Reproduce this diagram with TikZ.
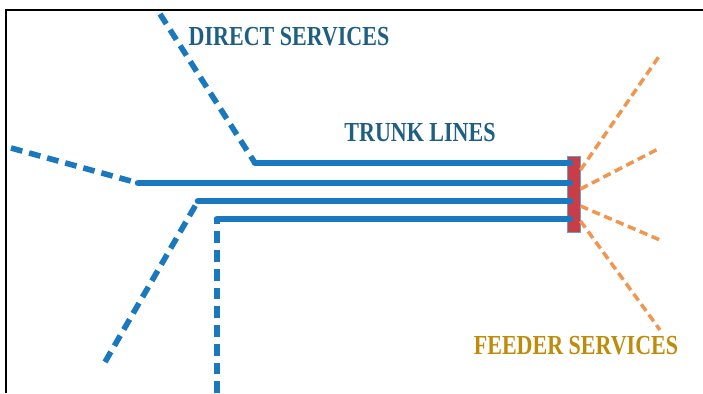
\documentclass[tikz,border=0pt]{standalone}
\usepackage{fontspec}
\newfontfamily\labelfont[FakeStretch=0.8]{Liberation Serif}
\usetikzlibrary{positioning}
\definecolor{trunkblue}{RGB}{26,121,190}
\definecolor{textblue}{RGB}{30,95,130}
\definecolor{feedergold}{RGB}{190,140,10}
\definecolor{feederorange}{RGB}{240,150,80}
\definecolor{hubred}{RGB}{200,62,72}
\tikzset{>=latex}
\tikzset{
  trunk/.style={line width=5.6pt,color=trunkblue,line cap=round},
  direct/.style={line width=4.8pt,color=trunkblue,dash pattern=on 10pt off 6pt},
  feeder/.style={line width=3pt,color=feederorange,dash pattern=on 7pt off 4pt},
  hubbox/.style={rectangle,draw=trunkblue!70,line width=0.8pt,fill=hubred,inner sep=0pt,minimum width=0.39cm,minimum height=2.28cm},
  lbl/.style={font=\labelfont\bfseries\fontsize{23.5}{25}\selectfont,inner sep=0pt}
}
\begin{document}
\begin{tikzpicture}[x=0.03cm,y=-0.03cm]
\useasboundingbox (0,0) rectangle (703,393);

\draw[line width=1.6pt] (6,393) |- (703,10);

\node [hubbox] (hub) at (573.5,194) {};

\node [lbl,color=textblue] (direct) at (289,37) {DIRECT SERVICES};
\node [lbl,color=textblue] (trunklbl) at (420,133) {TRUNK LINES};
\node [lbl,color=feedergold] (feederlbl) at (576,346) {FEEDER SERVICES};

\coordinate (d1) at (160,14);
\coordinate (b1) at (255,163);
\coordinate (e1) at (570,163);
\coordinate (d2) at (11,148);
\coordinate (b2) at (138,183);
\coordinate (e2) at (570,183);
\coordinate (d3) at (105,362);
\coordinate (b3) at (198,201);
\coordinate (e3) at (570,201);
\coordinate (d4) at (217,393);
\coordinate (b4) at (217,219);
\coordinate (e4) at (570,219);

\coordinate (f1) at (660,55);
\coordinate (f2) at (660,148);
\coordinate (f3) at (660,240);
\coordinate (f4) at (660,330);

\begin{scope}
\draw[direct] (d1) to (b1);
\draw[direct] (d2) to (b2);
\draw[direct] (d3) to (b3);
\draw[direct] (d4) to (b4);
\draw[trunk] (b1) to (e1);
\draw[trunk] (b2) to (e2);
\draw[trunk] (b3) to (e3);
\draw[trunk] (b4) to (e4);
\end{scope}

\begin{scope}
\draw[feeder] (hub.east |- 0,170) to (f1);
\draw[feeder] (hub.east |- 0,189) to (f2);
\draw[feeder] (hub.east |- 0,206) to (f3);
\draw[feeder] (hub.east |- 0,221) to (f4);
\end{scope}

\end{tikzpicture}
\end{document}
